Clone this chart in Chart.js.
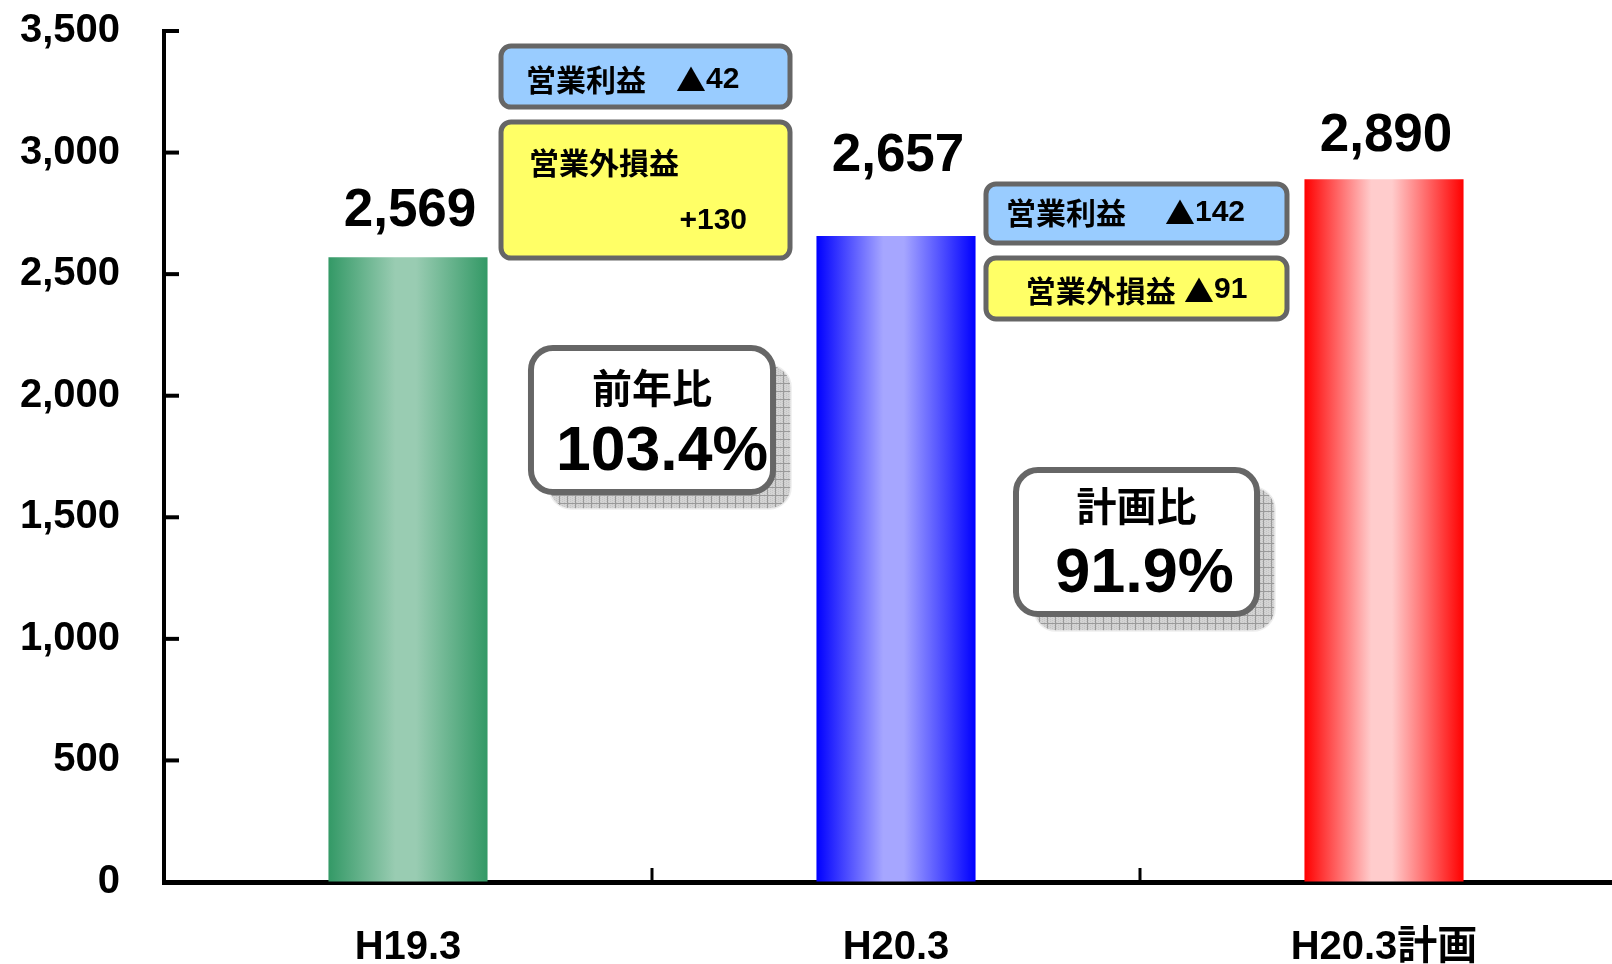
<!DOCTYPE html>
<html><head><meta charset="utf-8">
<script src="https://cdn.jsdelivr.net/npm/chart.js@4.4.0/dist/chart.umd.min.js"></script>
<style>
html,body{margin:0;padding:0;overflow:hidden;background:#fff;width:1612px;height:964px}
#wrap{position:absolute;left:0;top:0;width:1628px;height:964px}
</style></head>
<body><div id="wrap"><canvas id="c" width="1628" height="964" style="width:1628px;height:964px"></canvas></div>
<script>
// ---- data ----
const categories = ['H19.3', 'H20.3', 'H20.3計画'];
const values = [2569, 2657, 2890];
const yTickValues = [0, 500, 1000, 1500, 2000, 2500, 3000, 3500];
const edgeColors = ['#339966', '#0000FF', '#FF0000'];
const centerColors = ['#99CCB2', '#A6A6FF', '#FFCCCC'];
const boxLabels = ['営業利益', '営業外損益', '営業利益', '営業外損益'];
const boxValues = ['▲42', '+130', '▲142', '▲91'];
const ratioLabels = ['前年比', '計画比'];
const ratioValues = ['103.4%', '91.9%'];

// ---- styling / layout ----
const BAR_PCT = 0.326;
const labelGaps = [31, 65, 28];   // px between bar top and value-label baseline
const LATIN = '"Liberation Sans", Arial, "Noto Sans CJK JP", sans-serif';
const CJK = '"Noto Sans CJK JP", sans-serif';
// call-outs anchored in data space: x in category units, y in value units
const boxLayout = [
  {fill: '#99CCFF', x0: 0.1906, x1: 0.7828, y0: 3438, y1: 3187, r: 10, lw: 5, mode: 'row', lx: 25, ly: 34, vx: 175, vy: 34},
  {fill: '#FFFF66', x0: 0.1906, x1: 0.7828, y0: 3126, y1: 2566, r: 10, lw: 5, mode: 'stack', lx: 28, ly: 41, vr: 43, vy: 99},
  {fill: '#99CCFF', x0: 1.1844, x1: 1.8012, y0: 2871, y1: 2628, r: 10, lw: 5, mode: 'row', lx: 20, ly: 29, vx: 179, vy: 29},
  {fill: '#FFFF66', x0: 1.1844, x1: 1.8012, y0: 2566, y1: 2316, r: 10, lw: 5, mode: 'center', ly: 32}
];
const ratioLayout = [
  {x0: 0.252, x1: 0.748, y0: 2196, y1: 1604, ty: 40, vdx: 10, vy: 122, vmax: 212},
  {x0: 1.2459, x1: 1.7398, y0: 1694, y1: 1102, ty: 36, vdx: 8, vy: 122, vmax: 230}
];

function rr(ctx, x, y, w, h, r) {
  ctx.beginPath();
  ctx.moveTo(x + r, y);
  ctx.arcTo(x + w, y, x + w, y + h, r);
  ctx.arcTo(x + w, y + h, x, y + h, r);
  ctx.arcTo(x, y + h, x, y, r);
  ctx.arcTo(x, y, x + w, y, r);
  ctx.closePath();
}

// draw text where CJK / symbol characters use the CJK font and the rest the Latin font
function mixedRuns(ctx, text, size) {
  const runs = [];
  for (const ch of text) {
    const cjk = /[\u2000-\u2BFF\u3000-\u9FFF\uFF00-\uFFEF]/.test(ch);
    const font = 'bold ' + size + 'px ' + (cjk ? CJK : LATIN);
    if (runs.length && runs[runs.length - 1].font === font) runs[runs.length - 1].t += ch;
    else runs.push({t: ch, font});
  }
  let total = 0;
  runs.forEach(r => { ctx.font = r.font; r.w = ctx.measureText(r.t).width; total += r.w; });
  return {runs, total};
}
function drawMixed(ctx, text, x, y, align, size) {
  const {runs, total} = mixedRuns(ctx, text, size);
  let cx = align === 'center' ? x - total / 2 : align === 'right' ? x - total : x;
  ctx.textAlign = 'left';
  runs.forEach(r => { ctx.font = r.font; ctx.fillText(r.t, cx, y); cx += r.w; });
}

function makePattern(ctx) {
  const c = document.createElement('canvas');
  c.width = 8; c.height = 8;
  const p = c.getContext('2d');
  p.fillStyle = '#d4d4d4'; p.fillRect(0, 0, 8, 8);
  p.fillStyle = '#c4c4c4';
  for (let i = 0; i < 8; i += 2) for (let j = (i / 2) % 2; j < 8; j += 2) p.fillRect(i, j, 1, 1);
  p.fillStyle = '#9a9a9a';
  p.fillRect(7, 0, 1, 8); p.fillRect(0, 7, 8, 1);
  return ctx.createPattern(c, 'repeat');
}

const axisTicksPlugin = {
  id: 'inwardTicks',
  afterDraw(chart) {
    const {ctx, chartArea: a} = chart;
    const ys = chart.scales.y, xs = chart.scales.x;
    ctx.save();
    ctx.strokeStyle = '#000';
    ctx.lineWidth = 4;
    ys.ticks.forEach(t => {
      const py = ys.getPixelForValue(t.value);
      ctx.beginPath(); ctx.moveTo(a.left, py); ctx.lineTo(a.left + 15, py); ctx.stroke();
    });
    ctx.lineWidth = 3;
    for (let i = 1; i < categories.length; i++) {
      const px = (xs.getPixelForValue(i - 1) + xs.getPixelForValue(i)) / 2;
      ctx.beginPath(); ctx.moveTo(px, a.bottom); ctx.lineTo(px, a.bottom - 14); ctx.stroke();
    }
    ctx.restore();
  }
};

const valueLabelPlugin = {
  id: 'valueLabels',
  afterDatasetsDraw(chart) {
    const ctx = chart.ctx;
    const meta = chart.getDatasetMeta(0);
    ctx.save();
    ctx.fillStyle = '#000';
    ctx.font = 'bold 53px ' + LATIN;
    ctx.textAlign = 'center';
    ctx.textBaseline = 'alphabetic';
    meta.data.forEach((el, i) => {
      ctx.fillText(values[i].toLocaleString('en-US'), el.x + 2, el.y - labelGaps[i]);
    });
    ctx.restore();
  }
};

const calloutPlugin = {
  id: 'callouts',
  afterDraw(chart) {
    const ctx = chart.ctx;
    const xs = chart.scales.x, ys = chart.scales.y;
    const catW = xs.width / categories.length;
    const px = v => xs.getPixelForValue(0) + v * catW;
    const py = v => ys.getPixelForValue(v);
    ctx.save();
    boxLayout.forEach((b, i) => {
      const x = px(b.x0), y = py(b.y0), w = px(b.x1) - x, h = py(b.y1) - y;
      rr(ctx, x, y, w, h, b.r);
      ctx.fillStyle = b.fill; ctx.fill();
      ctx.lineWidth = b.lw; ctx.strokeStyle = '#666666'; ctx.stroke();
      ctx.fillStyle = '#000';
      ctx.textBaseline = 'middle';
      if (b.mode === 'row') {
        drawMixed(ctx, boxLabels[i], x + b.lx, y + b.ly, 'left', 30);
        drawMixed(ctx, boxValues[i], x + b.vx, y + b.vy, 'left', 30);
      } else if (b.mode === 'stack') {
        drawMixed(ctx, boxLabels[i], x + b.lx, y + b.ly, 'left', 30);
        drawMixed(ctx, boxValues[i], x + w - b.vr, y + b.vy, 'right', 30);
      } else {
        drawMixed(ctx, boxLabels[i] + ' ' + boxValues[i], x + w / 2, y + b.ly, 'center', 30);
      }
    });
    const pat = makePattern(ctx);
    ratioLayout.forEach((b, i) => {
      const x = px(b.x0), y = py(b.y0), w = px(b.x1) - x, h = py(b.y1) - y;
      rr(ctx, x + 18, y + 17, w, h, 22);
      ctx.fillStyle = pat; ctx.fill();
      ctx.lineWidth = 1.5; ctx.strokeStyle = '#eeeeee'; ctx.stroke();
      rr(ctx, x, y, w, h, 22);
      ctx.fillStyle = '#ffffff'; ctx.fill();
      ctx.lineWidth = 6; ctx.strokeStyle = '#666666'; ctx.stroke();
      ctx.fillStyle = '#000';
      ctx.textAlign = 'center';
      ctx.textBaseline = 'middle';
      ctx.font = 'bold 40px ' + CJK;
      ctx.fillText(ratioLabels[i], x + w / 2, y + b.ty);
      ctx.textBaseline = 'alphabetic';
      ctx.font = 'bold 63px ' + LATIN;
      ctx.fillText(ratioValues[i], x + w / 2 + b.vdx, y + b.vy, b.vmax);
    });
    ctx.restore();
  }
};

function barFill(ctx) {
  const i = ctx.dataIndex;
  const chart = ctx.chart;
  const xs = chart.scales && chart.scales.x;
  if (i === undefined || !xs || !chart.chartArea) return edgeColors[i || 0];
  const cx = xs.getPixelForValue(i);
  const half = xs.width / categories.length * BAR_PCT / 2;
  const g = chart.ctx.createLinearGradient(cx - half, 0, cx + half, 0);
  g.addColorStop(0, edgeColors[i]);
  g.addColorStop(0.42, centerColors[i]);
  g.addColorStop(0.55, centerColors[i]);
  g.addColorStop(1, edgeColors[i]);
  return g;
}

new Chart(document.getElementById('c'), {
  type: 'bar',
  data: {
    labels: categories,
    datasets: [{
      data: values,
      backgroundColor: barFill,
      borderWidth: 0,
      barPercentage: BAR_PCT,
      categoryPercentage: 1
    }]
  },
  options: {
    responsive: false,
    animation: false,
    events: [],
    layout: {padding: {top: 31, left: 0, right: 0, bottom: 0}},
    plugins: {legend: {display: false}, tooltip: {enabled: false}},
    scales: {
      x: {
        z: 1,
        offset: true,
        grid: {display: true, drawOnChartArea: false, drawTicks: false, offset: true},
        border: {display: true, color: '#000', width: 5},
        ticks: {color: '#000', font: {family: LATIN, size: 40, weight: 'bold'}, padding: 42, maxRotation: 0},
        afterFit(s) { s.height = 82; s.paddingLeft = 0; s.paddingRight = 0; }
      },
      y: {
        z: 1,
        min: 0, max: 3500,
        afterBuildTicks(s) { s.ticks = yTickValues.map(v => ({value: v})); },
        grid: {display: true, drawOnChartArea: false, drawTicks: false},
        border: {display: true, color: '#000', width: 4},
        ticks: {color: '#000', font: {family: LATIN, size: 40, weight: 'bold'}, padding: 44,
          callback: v => v.toLocaleString('en-US')},
        afterFit(s) { s.width = 164; s.paddingTop = 0; s.paddingBottom = 0; }
      }
    }
  },
  plugins: [axisTicksPlugin, valueLabelPlugin, calloutPlugin]
});
</script>
</body></html>
